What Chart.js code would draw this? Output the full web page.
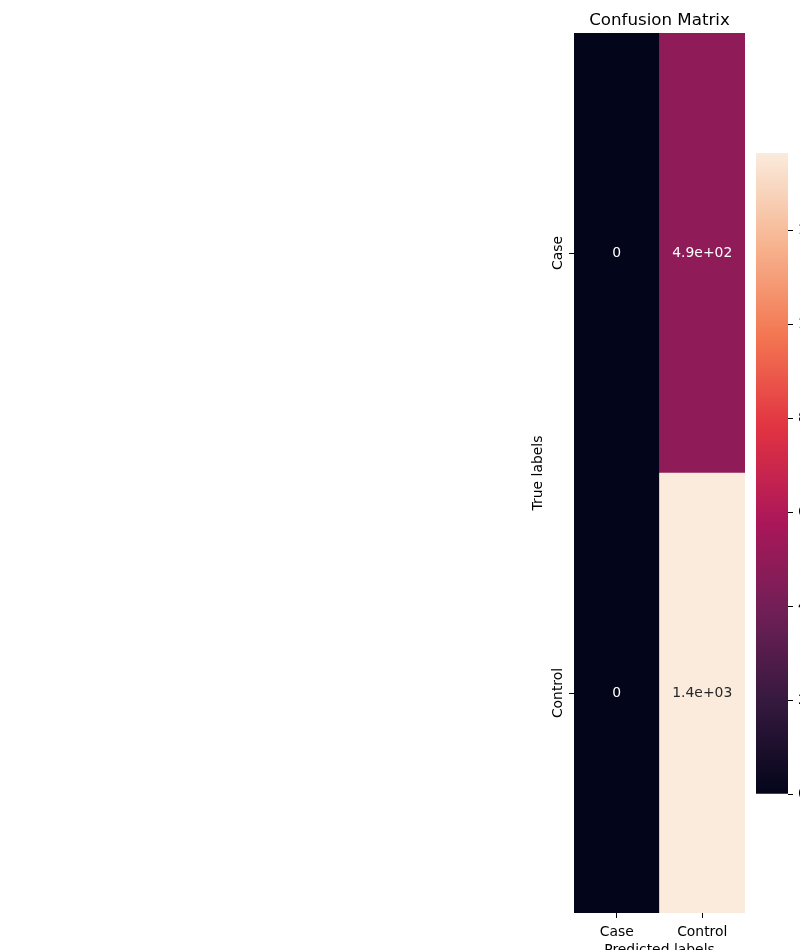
<!DOCTYPE html>
<html><head><meta charset="utf-8">
<script src="https://cdn.jsdelivr.net/npm/chart.js@4.4.0/dist/chart.umd.min.js"></script>
<style>
html,body{margin:0;padding:0;width:800px;height:950px;overflow:hidden;background:#fff;}
#main{position:absolute;left:520px;top:0;}
#cbar{position:absolute;left:756px;top:133px;}
</style></head><body>
<canvas id="main" width="279" height="980"></canvas>
<canvas id="cbar" width="100" height="681"></canvas>
<script>
// ---- data ----
const predictedLabels = ['Case', 'Control'];
const trueLabels = ['Case', 'Control'];
const caseRow = [0, 488];
const controlRow = [0, 1364];
const colorbarMax = 1364;
const colorbarTicks = [0, 200, 400, 600, 800, 1000, 1200];
const titleText = 'Confusion Matrix';
const xTitle = 'Predicted labels';
const yTitle = 'True labels';

// ---- rocket colormap ----
const rocketPos = [0, 1/7, 2/7, 3/7, 4/7, 5/7, 6/7, 1];
const rocketHex = ['#03051A', '#35193E', '#701F57', '#AD1759', '#E13342', '#F37651', '#F6B48F', '#FAEBDD'];
function hexRgb(h){return [parseInt(h.slice(1,3),16),parseInt(h.slice(3,5),16),parseInt(h.slice(5,7),16)];}
function rocketRgb(t){
  t = Math.max(0, Math.min(1, t));
  for (let i = 0; i < rocketPos.length - 1; i++) {
    if (t <= rocketPos[i+1]) {
      const f = (t - rocketPos[i]) / (rocketPos[i+1] - rocketPos[i]);
      const a = hexRgb(rocketHex[i]), b = hexRgb(rocketHex[i+1]);
      return a.map((c, k) => Math.round(c + (b[k] - c) * f));
    }
  }
  return hexRgb(rocketHex[rocketHex.length-1]);
}
function colorFor(v){const c = rocketRgb(v / colorbarMax); return `rgb(${c[0]},${c[1]},${c[2]})`;}
function textColorFor(v){
  const c = rocketRgb(v / colorbarMax).map(x => { x /= 255; return x <= 0.03928 ? x/12.92 : Math.pow((x+0.055)/1.055, 2.4); });
  const lum = 0.2126*c[0] + 0.7152*c[1] + 0.0722*c[2];
  return lum > 0.408 ? '#262626' : '#ffffff';
}
function fmt2g(v){
  if (v === 0) return '0';
  const e = Math.floor(Math.log10(Math.abs(v)));
  if (e < -4 || e >= 2) {
    let m = v / Math.pow(10, e);
    let mm = m.toFixed(1); let ee = e;
    if (Math.abs(parseFloat(mm)) >= 10) { mm = (m/10).toFixed(1); ee = e + 1; }
    const sign = ee < 0 ? '-' : '+';
    return mm + 'e' + sign + String(Math.abs(ee)).padStart(2, '0');
  }
  return String(parseFloat(v.toPrecision(2)));
}

const FONT = 'DejaVu Sans';
const rowsBottomUp = [ {label: trueLabels[1], values: controlRow}, {label: trueLabels[0], values: caseRow} ];

const annotPlugin = {
  id: 'annot',
  afterDatasetsDraw(chart){
    const ctx = chart.ctx;
    ctx.save();
    ctx.font = `13.9px "${FONT}"`;
    ctx.textAlign = 'center';
    ctx.textBaseline = 'middle';
    chart.data.datasets.forEach((ds, di) => {
      const meta = chart.getDatasetMeta(di);
      meta.data.forEach((el, i) => {
        const v = ds.values[i];
        ctx.fillStyle = textColorFor(v);
        ctx.fillText(fmt2g(v), el.x, (el.y + el.base) / 2);
      });
    });
    // y tick labels (rotated)
    const ys = chart.scales.y;
    ctx.fillStyle = '#000';
    ctx.textBaseline = 'alphabetic';
    trueLabels.forEach((lab, i) => {
      const val = trueLabels.length - i - 0.5;
      const py = ys.getPixelForValue(val);
      ctx.save();
      ctx.translate(chart.chartArea.left - 12, py);
      ctx.rotate(-Math.PI/2);
      ctx.fillText(lab, 0, 0);
      ctx.restore();
    });
    ctx.restore();
  }
};

new Chart(document.getElementById('main'), {
  type: 'bar',
  data: {
    labels: predictedLabels,
    datasets: rowsBottomUp.map(r => ({
      label: r.label,
      data: predictedLabels.map(() => 1),
      values: r.values,
      backgroundColor: r.values.map(colorFor),
      borderWidth: 0,
      barPercentage: 1,
      categoryPercentage: 1
    }))
  },
  options: {
    responsive: false,
    animation: false,
    layout: { padding: { left: 0, right: 0, top: 0, bottom: 0 } },
    plugins: {
      legend: { display: false },
      tooltip: { enabled: false },
      title: { display: true, text: titleText, color: '#000', font: { family: FONT, size: 16.67, weight: 'normal' }, padding: { top: 10.5, bottom: 2.5 } }
    },
    scales: {
      x: {
        type: 'category', stacked: true,
        grid: { offset: false, drawOnChartArea: false, tickLength: 5, color: '#000', lineWidth: 1 },
        border: { display: false },
        ticks: { color: '#000', font: { family: FONT, size: 13.9 }, padding: 6, maxRotation: 0 },
        title: { display: true, text: xTitle, color: '#000', font: { family: FONT, size: 13.9 }, padding: { top: 0, bottom: 21 } },
        afterFit(s){ s.height = 67; }
      },
      y: {
        type: 'linear', stacked: true, min: 0, max: 2,
        afterBuildTicks(s){ s.ticks = trueLabels.map((_, i) => ({ value: i + 0.5 })); },
        ticks: { display: false },
        grid: { drawOnChartArea: false, tickLength: 5, color: '#000', lineWidth: 1 },
        border: { display: false },
        title: { display: true, text: yTitle, color: '#000', font: { family: FONT, size: 13.9 }, padding: { top: 10.5, bottom: 0 } },
        afterFit(s){ s.width = 54; }
      },
      yRight: {
        type: 'linear', position: 'right', display: true,
        grid: { display: false }, ticks: { display: false }, border: { display: false },
        afterFit(s){ s.width = 54; }
      }
    }
  },
  plugins: [annotPlugin]
});

new Chart(document.getElementById('cbar'), {
  type: 'bar',
  data: {
    labels: [''],
    datasets: [{
      data: [colorbarMax],
      borderWidth: 0,
      barPercentage: 1,
      categoryPercentage: 1,
      backgroundColor(ctx){
        const ch = ctx.chart; const a = ch.chartArea;
        if (!a) return '#000';
        const g = ch.ctx.createLinearGradient(0, a.bottom, 0, a.top);
        for (let i = 0; i <= 64; i++) { const c = rocketRgb(i/64); g.addColorStop(i/64, `rgb(${c[0]},${c[1]},${c[2]})`); }
        return g;
      }
    }]
  },
  options: {
    responsive: false,
    animation: false,
    layout: { padding: { left: 0, right: 0, top: 20, bottom: 20 } },
    plugins: { legend: { display: false }, tooltip: { enabled: false } },
    scales: {
      x: { display: false },
      y: {
        position: 'right', min: 0, max: colorbarMax,
        afterBuildTicks(s){ s.ticks = colorbarTicks.map(v => ({ value: v })); },
        ticks: { color: '#000', font: { family: FONT, size: 13.9 }, padding: 5 },
        grid: { drawOnChartArea: false, tickLength: 5, color: '#000', lineWidth: 1 },
        border: { display: false },
        afterFit(s){ s.width = 68; }
      }
    }
  }
});
</script>
</body></html>
